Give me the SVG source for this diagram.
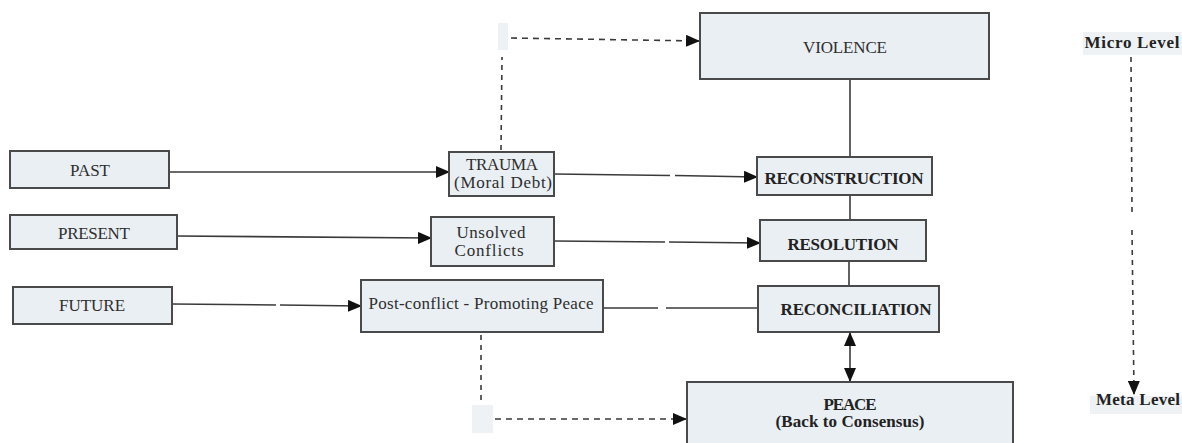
<svg xmlns="http://www.w3.org/2000/svg" width="1182" height="443" viewBox="0 0 1182 443">
<defs>
<style>
.box{fill:#e9eff3;stroke:#4a4a4a;stroke-width:2}
.t{font-family:"Liberation Serif","DejaVu Serif",serif;font-size:17px;fill:#2e2e2e;text-anchor:middle}
.b{font-weight:bold;fill:#222}
.ln{stroke:#3a3a3a;stroke-width:1.6;fill:none}
.dash{stroke:#3a3a3a;stroke-width:1.6;fill:none;stroke-dasharray:6 5}
.vdash{stroke:#3a3a3a;stroke-width:1.6;fill:none;stroke-dasharray:5 5}
.ghost{fill:#eef2f4}
</style>
<marker id="ah" markerUnits="userSpaceOnUse" markerWidth="14" markerHeight="12" refX="13" refY="6" orient="auto">
<path d="M0,0 L14,6 L0,12 Z" fill="#111"/>
</marker>
<marker id="ahs" markerUnits="userSpaceOnUse" markerWidth="14" markerHeight="12" refX="1" refY="6" orient="auto">
<path d="M14,0 L0,6 L14,12 Z" fill="#111"/>
</marker>
</defs>
<rect width="1182" height="443" fill="#ffffff"/>

<g id="connectors">
<line class="ln" x1="169" y1="172" x2="449" y2="172" marker-end="url(#ah)"/>
<line class="ln" x1="177" y1="236" x2="431" y2="238" marker-end="url(#ah)"/>
<line class="ln" x1="172" y1="304" x2="276" y2="305"/>
<line class="ln" x1="280" y1="305" x2="361" y2="306" marker-end="url(#ah)"/>
<line class="ln" x1="554" y1="174" x2="670" y2="175.5"/>
<line class="ln" x1="675" y1="175.5" x2="757" y2="177" marker-end="url(#ah)"/>
<line class="ln" x1="554" y1="241" x2="665" y2="242"/>
<line class="ln" x1="669" y1="242" x2="760" y2="243" marker-end="url(#ah)"/>
<line class="ln" x1="603" y1="308" x2="658" y2="308"/>
<line class="ln" x1="666" y1="308" x2="758" y2="308"/>
<line class="ln" x1="850" y1="80" x2="850" y2="157"/>
<line class="ln" x1="850" y1="195" x2="850" y2="220"/>
<line class="ln" x1="849" y1="261" x2="849" y2="286"/>
<line class="ln" x1="850" y1="333" x2="850" y2="381" marker-start="url(#ahs)" marker-end="url(#ah)"/>
<line class="vdash" x1="501" y1="150" x2="502" y2="57"/>
<line class="dash" x1="511" y1="38" x2="699" y2="41" marker-end="url(#ah)"/>
<line class="vdash" x1="481" y1="335" x2="481" y2="404"/>
<line class="dash" x1="495" y1="419" x2="686" y2="419" marker-end="url(#ah)"/>
<line class="vdash" x1="1131" y1="57" x2="1132" y2="212"/>
<line class="vdash" x1="1132" y1="230" x2="1134" y2="394" marker-end="url(#ah)"/>
</g>

<rect class="ghost" x="498" y="23" width="10" height="27"/>
<rect class="ghost" x="472" y="405" width="21" height="28"/>

<g id="violence"><rect class="box" x="700" y="13" width="289" height="66"/><text class="t" x="845" y="53" textLength="84">VIOLENCE</text></g>
<g id="past"><rect class="box" x="10" y="151" width="159" height="37"/><text class="t" x="90" y="176" textLength="40">PAST</text></g>
<g id="present"><rect class="box" x="10" y="215" width="167" height="34"/><text class="t" x="94" y="239" textLength="72">PRESENT</text></g>
<g id="future"><rect class="box" x="13" y="287" width="159" height="37"/><text class="t" x="92" y="311">FUTURE</text></g>
<g id="trauma"><rect class="box" x="449" y="152" width="105" height="44"/><text class="t" x="502" y="170" textLength="72">TRAUMA</text><text class="t" x="503" y="188" textLength="98">(Moral Debt)</text></g>
<g id="unsolved"><rect class="box" x="431" y="217" width="123" height="49"/><text class="t" x="491" y="238" textLength="69">Unsolved</text><text class="t" x="489" y="256" textLength="69">Conflicts</text></g>
<g id="postconflict"><rect class="box" x="361" y="280" width="242" height="52"/><text class="t" x="481" y="309" textLength="225">Post-conflict - Promoting Peace</text></g>
<g id="reconstruction"><rect class="box" x="757" y="157" width="175" height="38"/><text class="t b" x="844" y="184" textLength="159">RECONSTRUCTION</text></g>
<g id="resolution"><rect class="box" x="760" y="220" width="166" height="41"/><text class="t b" x="843" y="250" textLength="111">RESOLUTION</text></g>
<g id="reconciliation"><rect class="box" x="758" y="286" width="181" height="46"/><text class="t b" x="856" y="315" textLength="151">RECONCILIATION</text></g>
<g id="peace"><rect class="box" x="687" y="382" width="326" height="66"/><text class="t b" x="850" y="410" textLength="53">PEACE</text><text class="t b" x="850" y="427" textLength="149">(Back to Consensus)</text></g>
<g id="micro"><rect class="ghost" x="1083" y="32" width="99" height="23"/><text class="t b" x="1132" y="48" textLength="95">Micro Level</text></g>
<g id="meta"><rect class="ghost" x="1090" y="396" width="92" height="18"/><text class="t b" x="1138" y="405" textLength="84">Meta Level</text></g>
</svg>
